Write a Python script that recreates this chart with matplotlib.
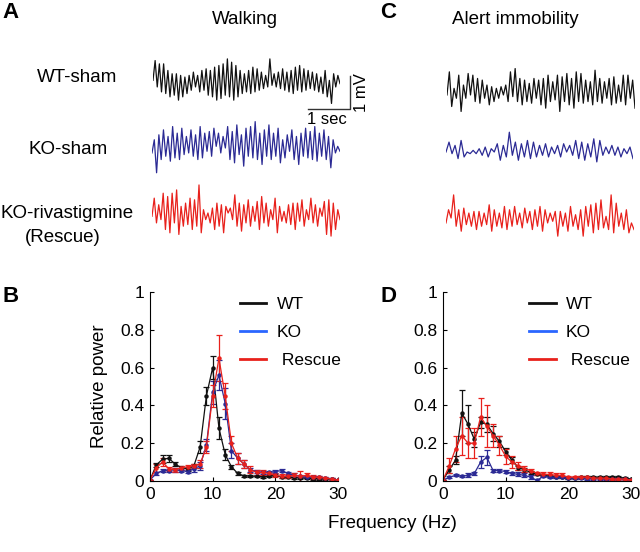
import matplotlib
matplotlib.use("Agg")
import matplotlib.pyplot as plt
from matplotlib.lines import Line2D
import numpy as np

plt.rcParams["font.family"] = ["Liberation Sans", "DejaVu Sans"]

W, H = 640, 552
BLACK = "#111111"
NAVY = "#2b2a94"
RED = "#e8211c"
LEG_BLUE = "#2a66ff"

# ---- example LFP traces (mV) ----
wt_walk = [0.05, 0.65, -0.15, 0.55, -0.30, 0.55, -0.35, 0.35, -0.45, 0.25, -0.40, 0.25,
           -0.55, 0.20, -0.45, 0.15, -0.35, 0.20, -0.25, 0.30, -0.15, 0.20, -0.30, 0.35,
           -0.25, 0.40, -0.40, 0.35, -0.45, 0.45, -0.55, 0.50, -0.50, 0.55, -0.40, 0.70,
           -0.45, 0.60, -0.55, 0.50, -0.45, 0.35, -0.35, 0.25, -0.30, 0.35, -0.35, 0.45,
           -0.30, 0.40, -0.25, 0.30, -0.20, 0.20, -0.15, 0.70, -0.10, 0.25, -0.15, 0.30,
           -0.20, 0.40, -0.25, 0.30, -0.30, 0.35, -0.35, 0.45, -0.25, 0.50, -0.30, 0.40,
           -0.25, 0.35, -0.20, 0.30, -0.25, 0.25, -0.30, 0.15, -0.35, 0.35, -0.45, 0.05,
           -0.65, 0.25, -0.15, 0.20, -0.05]
ko_walk = [-0.15, 0.25, -0.75, 0.40, -0.35, 0.55, -0.25, 0.35, -0.40, 0.65, -0.30, 0.45,
           -0.35, 0.60, -0.20, 0.35, -0.15, 0.55, -0.25, 0.40, -0.35, 0.65, -0.30, 0.45,
           -0.10, 0.50, -0.25, 0.60, 0.05, 0.45, -0.15, 0.35, 0.00, 0.65, -0.35, 0.50,
           -0.45, 0.70, -0.20, 0.40, -0.55, 0.60, -0.25, 0.65, -0.30, 0.80, -0.35, 0.45,
           -0.50, 0.55, -0.25, 0.70, -0.35, 0.45, -0.25, 0.60, -0.45, 0.25, -0.30, 0.40,
           -0.10, 0.55, -0.35, 0.35, -0.50, 0.45, -0.25, 0.60, -0.30, 0.50, -0.35, 0.65,
           -0.40, 0.45, -0.25, 0.55, -0.35, 0.35, -0.60, 0.25, -0.15, 0.05, -0.10]
rescue_walk = [-0.10, 0.45, -0.30, 0.25, -0.20, 0.60, -0.50, 0.50, -0.60, 0.60, -0.30, 0.70,
               -0.65, 0.20, -0.40, 0.30, -0.35, 0.45, -0.50, 0.40, -0.40, 0.85, -0.60, 0.10,
               -0.20, 0.00, -0.30, 0.15, -0.50, 0.30, -0.40, 0.25, -0.60, 0.20, 0.00, 0.15,
               -0.20, 0.55, -0.40, 0.30, -0.55, 0.25, -0.30, 0.40, -0.40, 0.20, -0.25, 0.35,
               -0.50, 0.50, -0.30, 0.30, -0.40, 0.10, -0.20, 0.45, -0.60, 0.20, -0.25, 0.05,
               -0.30, 0.25, -0.35, 0.30, -0.50, 0.30, -0.25, 0.40, -0.40, 0.10, -0.20, 0.45,
               -0.30, 0.25, -0.40, 0.15, -0.10, 0.35, -0.65, 0.40, -0.70, 0.30, -0.50, 0.10,
               -0.20]
wt_alert = [-0.15, 0.55, -0.50, 0.05, -0.25, 0.45, -0.65, 0.15, -0.25, 0.50, -0.15, 0.45,
            -0.35, 0.35, -0.40, 0.30, -0.25, 0.15, -0.45, 0.10, -0.35, 0.05, -0.25, 0.10,
            -0.15, 0.15, -0.35, 0.55, -0.20, 0.65, -0.35, 0.35, -0.45, 0.30, -0.35, 0.20,
            -0.40, 0.35, -0.25, 0.30, -0.45, 0.35, -0.55, 0.45, -0.35, 0.25, -0.30, 0.45,
            -0.65, 0.40, -0.35, 0.50, -0.45, 0.35, -0.55, 0.55, -0.35, 0.50, -0.40, 0.30,
            -0.35, 0.25, -0.45, 0.60, -0.35, 0.35, -0.40, 0.25, -0.25, 0.35, -0.45, 0.40,
            -0.40, 0.15, -0.35, 0.45, -0.45, 0.45, -0.25, 0.30, -0.55]
ko_alert = [0.00, 0.30, -0.05, 0.20, -0.20, 0.35, -0.15, 0.00, -0.05, 0.05, -0.05, 0.10,
            -0.10, 0.15, -0.15, 0.10, 0.00, 0.25, -0.25, 0.20, -0.15, 0.60, -0.10, 0.30,
            -0.25, 0.25, -0.15, 0.35, -0.20, 0.30, -0.15, 0.20, -0.10, 0.25, -0.15, 0.15,
            -0.05, 0.20, -0.15, 0.25, 0.00, 0.20, -0.10, 0.35, -0.20, 0.30, -0.25, 0.25,
            -0.15, 0.40, -0.30, 0.35, -0.10, 0.15, -0.05, 0.20, -0.10, 0.15, -0.15, 0.10,
            -0.05, 0.15, -0.20]
rescue_alert = [-0.15, 0.25, 0.00, 0.70, -0.25, 0.25, -0.40, 0.30, -0.20, 0.15, -0.25, 0.20,
                -0.35, 0.20, -0.25, 0.15, -0.20, 0.40, -0.40, 0.25, -0.25, 0.15, -0.30, 0.35,
                -0.35, 0.25, -0.25, 0.35, -0.20, 0.15, -0.30, 0.30, -0.15, 0.20, -0.35, 0.25,
                -0.25, 0.35, -0.40, 0.25, -0.15, 0.15, -0.10, 0.20, -0.55, 0.20, -0.25, 0.15,
                -0.40, 0.35, -0.25, 0.10, -0.35, 0.25, -0.55, 0.35, -0.25, 0.40, -0.45, 0.45,
                -0.35, 0.55, -0.30, 0.05, -0.35, 0.70, -0.45, 0.45, -0.25, 0.15, -0.35, 0.25,
                -0.45, -0.15, -0.35]

# ---- power spectra (relative power, mean +- sem) ----
freq = np.arange(31)
walk_wt = [0.005, 0.085, 0.115, 0.12, 0.09, 0.07, 0.065, 0.08, 0.18, 0.45, 0.60, 0.28,
           0.14, 0.075, 0.04, 0.027, 0.025, 0.025, 0.022, 0.025, 0.03, 0.02, 0.02, 0.018,
           0.015, 0.015, 0.012, 0.012, 0.01, 0.01, 0.005]
walk_wt_err = [0, 0.01, 0.02, 0.02, 0.01, 0.01, 0.01, 0.01, 0.03, 0.05, 0.06, 0.06, 0.03,
               0.01, 0.01, 0.005, 0.005, 0.005, 0.005, 0.005, 0.005, 0.005, 0.005, 0.005,
               0.005, 0.005, 0.005, 0.005, 0.005, 0.005, 0]
walk_ko = [0.005, 0.04, 0.055, 0.055, 0.06, 0.055, 0.05, 0.065, 0.08, 0.19, 0.47, 0.56,
           0.41, 0.16, 0.12, 0.09, 0.06, 0.05, 0.045, 0.045, 0.05, 0.055, 0.04, 0.03,
           0.025, 0.02, 0.02, 0.02, 0.015, 0.012, 0.005]
walk_ko_err = [0, 0.01, 0.01, 0.01, 0.01, 0.01, 0.01, 0.02, 0.02, 0.03, 0.06, 0.08, 0.08,
               0.04, 0.03, 0.02, 0.01, 0.01, 0.01, 0.01, 0.01, 0.01, 0.01, 0.01, 0.005,
               0.005, 0.005, 0.005, 0.005, 0.005, 0]
walk_rescue = [0.005, 0.07, 0.10, 0.065, 0.06, 0.07, 0.075, 0.08, 0.09, 0.18, 0.45, 0.65,
               0.45, 0.20, 0.12, 0.09, 0.06, 0.045, 0.045, 0.04, 0.03, 0.025, 0.025, 0.03,
               0.025, 0.03, 0.02, 0.02, 0.015, 0.01, 0.005]
walk_rescue_err = [0, 0.02, 0.02, 0.01, 0.01, 0.01, 0.01, 0.01, 0.02, 0.03, 0.06, 0.12,
                   0.07, 0.04, 0.03, 0.02, 0.02, 0.015, 0.015, 0.01, 0.01, 0.01, 0.01,
                   0.01, 0.03, 0.01, 0.01, 0.005, 0.005, 0.005, 0]
alert_wt = [0.005, 0.06, 0.11, 0.36, 0.30, 0.22, 0.31, 0.30, 0.25, 0.21, 0.155, 0.11, 0.07,
            0.06, 0.045, 0.035, 0.03, 0.025, 0.02, 0.02, 0.015, 0.015, 0.02, 0.02, 0.02,
            0.02, 0.02, 0.02, 0.02, 0.015, 0.01]
alert_wt_err = [0, 0.02, 0.02, 0.12, 0.10, 0.04, 0.03, 0.04, 0.04, 0.03, 0.02, 0.015,
                0.01, 0.01, 0.01, 0.005, 0.005, 0.005, 0.005, 0.005, 0.005, 0.005, 0.005,
                0.005, 0.005, 0.005, 0.005, 0.005, 0.005, 0.005, 0]
alert_ko = [0.005, 0.02, 0.03, 0.025, 0.03, 0.04, 0.10, 0.125, 0.055, 0.055, 0.05, 0.04,
            0.035, 0.03, 0.02, 0.003, 0.025, 0.02, 0.02, 0.02, 0.015, 0.015, 0.015, 0.012,
            0.012, 0.012, 0.01, 0.01, 0.01, 0.01, 0.005]
alert_ko_err = [0, 0.005, 0.005, 0.005, 0.01, 0.01, 0.03, 0.04, 0.01, 0.01, 0.01, 0.01,
                0.01, 0.01, 0.01, 0.005, 0.005, 0.005, 0.005, 0.005, 0.005, 0.005, 0.005,
                0.005, 0.005, 0.005, 0.005, 0.005, 0.005, 0.005, 0]
alert_rescue = [0.005, 0.08, 0.17, 0.24, 0.20, 0.20, 0.34, 0.29, 0.24, 0.19, 0.13, 0.10,
                0.08, 0.065, 0.055, 0.04, 0.035, 0.035, 0.03, 0.03, 0.02, 0.02, 0.02, 0.02,
                0.015, 0.015, 0.015, 0.01, 0.01, 0.01, 0.005]
alert_rescue_err = [0, 0.04, 0.07, 0.10, 0.08, 0.08, 0.10, 0.11, 0.06, 0.05, 0.04, 0.03,
                    0.02, 0.015, 0.01, 0.01, 0.01, 0.01, 0.01, 0.01, 0.005, 0.005, 0.005,
                    0.005, 0.005, 0.005, 0.005, 0.005, 0.005, 0.005, 0]

PX_PER_SEC = 42.0
PX_PER_MV = 33.0

fig = plt.figure(figsize=(W / 100, H / 100), dpi=100)


def px_axes(x0, y0, x1, y1):
    return fig.add_axes([x0 / W, 1 - y1 / H, (x1 - x0) / W, (y1 - y0) / H])


def ftext(x, y, s, **kw):
    fig.text(x / W, 1 - y / H, s, **kw)


def add_trace(x0, x1, yc, vals, color):
    half = 40
    ax = px_axes(x0, yc - half, x1, yc + half)
    dur = (x1 - x0) / PX_PER_SEC
    t = np.linspace(0, dur, len(vals))
    ax.plot(t, vals, color=color, lw=0.9)
    ax.set_xlim(0, dur)
    ax.set_ylim(-half / PX_PER_MV, half / PX_PER_MV)
    ax.axis("off")
    return ax


add_trace(153, 340, 82, wt_walk, BLACK)
add_trace(152, 340, 148, ko_walk, NAVY)
add_trace(152, 340, 213, rescue_walk, RED)
add_trace(447, 635, 90, wt_alert, BLACK)
add_trace(446, 633, 152, ko_alert, NAVY)
add_trace(446, 634, 218, rescue_alert, RED)

# scale bar: 1 sec x 1 mV
sb = px_axes(300, 70, 370, 125)
sb.set_xlim(0, 70 / PX_PER_SEC)
sb.set_ylim(0, 55 / PX_PER_MV)
x_end = 50 / PX_PER_SEC
y_base = 16 / PX_PER_MV
sb.plot([x_end - 1, x_end, x_end], [y_base, y_base, y_base + 1], color="#333333", lw=1.0)
sb.axis("off")
ftext(327, 120, "1 sec", ha="center", va="center", fontsize=12)
ftext(362, 93, "1 mV", ha="center", va="center", rotation=90, fontsize=12)

# panel titles / labels
ftext(2, 13, "A", fontsize=16, fontweight="bold", va="center")
ftext(380, 13, "C", fontsize=16, fontweight="bold", va="center")
ftext(2, 297, "B", fontsize=16, fontweight="bold", va="center")
ftext(380, 297, "D", fontsize=16, fontweight="bold", va="center")
ftext(245, 20, "Walking", fontsize=13.5, ha="center", va="center")
ftext(515, 20, "Alert immobility", fontsize=13.5, ha="center", va="center")
ftext(77, 78, "WT-sham", fontsize=13.5, ha="center", va="center")
ftext(68, 149, "KO-sham", fontsize=13.5, ha="center", va="center")
ftext(67, 213, "KO-rivastigmine", fontsize=13.5, ha="center", va="center")
ftext(63, 237, "(Rescue)", fontsize=13.5, ha="center", va="center")


def spectrum_ax(x0, x1, series, leg_x):
    ax = px_axes(x0, 292, x1, 481)
    for mean, err, col in series:
        ax.errorbar(freq, mean, yerr=err, color=col, lw=0.9, elinewidth=0.9,
                    capsize=2, capthick=0.9, marker="o", markersize=2.2)
    ax.set_xlim(0, 30)
    ax.set_ylim(0, 1)
    ax.set_xticks([0, 10, 20, 30])
    ax.set_yticks([0, 0.2, 0.4, 0.6, 0.8, 1])
    ax.set_yticklabels(["0", "0.2", "0.4", "0.6", "0.8", "1"])
    for side in ("top", "right"):
        ax.spines[side].set_visible(False)
    for side in ("left", "bottom"):
        ax.spines[side].set_linewidth(0.8)
    ax.tick_params(direction="in", length=3, width=0.8, labelsize=12.5, pad=4)
    handles = [Line2D([], [], color=BLACK, lw=2),
               Line2D([], [], color=LEG_BLUE, lw=2),
               Line2D([], [], color=RED, lw=2)]
    ax.legend(handles, ["WT", "KO", " Rescue"], loc="upper left",
              bbox_to_anchor=(leg_x, 0.975), frameon=False, fontsize=12.5,
              borderpad=0, handlelength=1.5, handletextpad=0.6, labelspacing=0.75,
              borderaxespad=0)
    return ax


spectrum_ax(150, 338, [(walk_wt, walk_wt_err, BLACK),
                       (walk_ko, walk_ko_err, NAVY),
                       (walk_rescue, walk_rescue_err, RED)], 0.48)
spectrum_ax(443, 631, [(alert_wt, alert_wt_err, BLACK),
                       (alert_ko, alert_ko_err, NAVY),
                       (alert_rescue, alert_rescue_err, RED)], 0.46)

ftext(100, 386, "Relative power", fontsize=13.5, rotation=90, ha="center", va="center")
ftext(392, 524, "Frequency (Hz)", fontsize=13.5, ha="center", va="center")

fig.savefig("out.png", dpi=100)
